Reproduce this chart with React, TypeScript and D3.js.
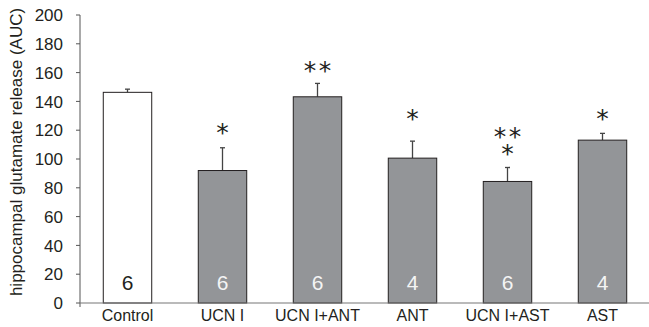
import React from 'react'
import * as d3 from 'd3'

// groups and results (AUC, mean + SEM)
const categories = ['Control', 'UCN I', 'UCN I+ANT', 'ANT', 'UCN I+AST', 'AST']
const means = [146.3, 92, 143.2, 100.6, 84.4, 113.1]
const sems = [2.2, 15.8, 9.3, 11.8, 9.7, 4.7]
const counts = [6, 6, 6, 4, 6, 4]
const yTicks = [0, 20, 40, 60, 80, 100, 120, 140, 160, 180, 200]

// significance marks: which group, the mark, and where it sits (in AUC units)
const starGroups = ['UCN I', 'UCN I+ANT', 'ANT', 'UCN I+AST', 'UCN I+AST', 'AST']
const starText = ['*', '**', '*', '**', '*', '*']
const starLevel = [122, 165.2, 131.7, 119.5, 107.5, 131.7]

const FONT = '"Liberation Sans", Arial, sans-serif'
const INK = '#231f20'
const BAR_GRAY = '#939598'

export default function App() {
  const width = 649
  const height = 327
  const left = 80
  const right = 650
  const top = 15
  const bottom = 303

  const x = d3
    .scaleBand()
    .domain(categories)
    .range([left, right])
    .paddingInner(0.49)
    .paddingOuter(0.245)

  const y = d3.scaleLinear().domain([0, 200]).range([bottom, top])

  const bw = x.bandwidth()
  const starSize = 25

  // marks of the same group go in one text element, one line each
  const marked = Array.from(new Set(starGroups))

  return (
    <svg
      width={width}
      height={height}
      style={{position: 'absolute', left: 0, top: 0, background: '#fff'}}
      fontFamily={FONT}
    >
      {/* y axis title */}
      <text
        transform={`translate(21.5,${152}) rotate(-90)`}
        textAnchor="middle"
        fontSize={17}
        fill={INK}
      >
        hippocampal glutamate release (AUC)
      </text>

      {/* y axis */}
      <line x1={left} x2={left} y1={y(200)} y2={bottom + 4} stroke="#555" strokeWidth={1} />
      {yTicks.map(t => (
        <g key={t}>
          <line x1={left - 4} x2={left} y1={y(t)} y2={y(t)} stroke="#555" />
          <text x={63} y={y(t)} dy="0.36em" textAnchor="end" fontSize={17} fill={INK}>
            {t}
          </text>
        </g>
      ))}

      {/* bars */}
      {categories.map((c, i) => {
        const x0 = x(c) as number
        const cx = x0 + bw / 2
        const isControl = i === 0
        return (
          <g key={c}>
            <line
              x1={cx}
              x2={cx}
              y1={y(means[i])}
              y2={y(means[i] + sems[i])}
              stroke="#444"
              strokeWidth={1.3}
            />
            <line
              x1={cx - 2.5}
              x2={cx + 2.5}
              y1={y(means[i] + sems[i])}
              y2={y(means[i] + sems[i])}
              stroke="#444"
              strokeWidth={1.3}
            />
            <rect
              x={x0}
              y={y(means[i])}
              width={bw}
              height={y(0) - y(means[i])}
              fill={isControl ? '#fff' : BAR_GRAY}
              stroke={INK}
              strokeWidth={1}
            />
            <text
              x={cx}
              y={y(0) - 21}
              dy="0.36em"
              textAnchor="middle"
              fontSize={21}
              fill={isControl ? INK : '#f4f4f4'}
            >
              {counts[i]}
            </text>
            <text x={cx} y={321} textAnchor="middle" fontSize={16} fill={INK}>
              {c}
            </text>
          </g>
        )
      })}

      {/* x axis */}
      <line x1={left} x2={right} y1={bottom} y2={bottom} stroke="#777" strokeWidth={1.2} />

      {/* significance marks */}
      {marked.map(g => {
        const cx = (x(g) as number) + bw / 2
        const rows = starGroups.map((s, i) => i).filter(i => starGroups[i] === g)
        return (
          <text
            key={g}
            textAnchor="middle"
            fontFamily='"DejaVu Sans", sans-serif'
            fontSize={starSize}
            fill={INK}
          >
            {rows.map(i => (
              <tspan
                key={i}
                x={cx + (starText[i].length > 1 ? 1.25 : 0)}
                y={y(starLevel[i]) + starSize * 0.55}
                letterSpacing={starText[i].length > 1 ? 2.5 : 0}
              >
                {starText[i]}
              </tspan>
            ))}
          </text>
        )
      })}
    </svg>
  )
}
